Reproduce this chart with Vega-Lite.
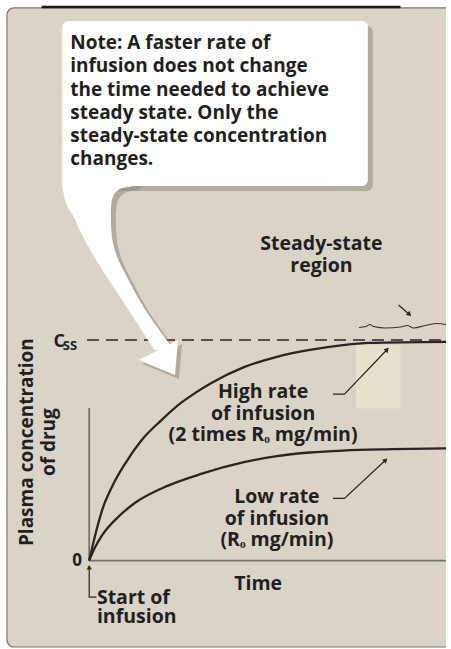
{
  "$schema": "https://vega.github.io/schema/vega-lite/v6.json",
  "width": 451,
  "height": 649,
  "autosize": {"type": "fit", "contains": "padding"},
  "padding": 0,
  "background": "white",
  "config": {"view": {"stroke": null}},
  "encoding": {
    "x": {"field": "t", "type": "quantitative", "scale": {"domain": [-2.5, 10], "nice": false, "zero": false}, "axis": null},
    "y": {"field": "c", "type": "quantitative", "scale": {"domain": [-0.401, 2.542], "nice": false, "zero": false}, "axis": null}
  },
  "layer": [
    {
      "data": {"values": [{"t": -2.306, "t2": 10.6, "c": 2.506, "c2": -0.392}]},
      "mark": {"type": "rect", "fill": "#d9d3c8", "stroke": "#7d7870", "strokeWidth": 1.2, "cornerRadius": 7, "clip": true},
      "encoding": {"x2": {"field": "t2"}, "y2": {"field": "c2"}}
    },
    {
      "data": {"values": [{"t": -1.336, "c": 2.51, "i": 0}, {"t": 8.725, "c": 2.51, "i": 1}]},
      "mark": {"type": "line", "color": "#1a1a1a", "strokeWidth": 2.5},
      "encoding": {"order": {"field": "i"}}
    },
    {
      "data": {"values": [{"t": 7.478, "t2": 8.725, "c": 0.977, "c2": 0.69}]},
      "mark": {"type": "rect", "fill": "#e9e5cb", "opacity": 0.75},
      "encoding": {"x2": {"field": "t2"}, "y2": {"field": "c2"}}
    },
    {
      "data": {"values": [
        {"k": "y", "t": 0, "c": 0.692, "i": 0}, {"k": "y", "t": 0, "c": 0, "i": 1},
        {"k": "x", "t": 0, "c": 0, "i": 0}, {"k": "x", "t": 10, "c": 0, "i": 1}
      ]},
      "mark": {"type": "line", "color": "#77726b", "strokeWidth": 1.8},
      "encoding": {"detail": {"field": "k"}, "order": {"field": "i"}}
    },
    {
      "data": {"values": [{"t": -0.061, "c": 1, "i": 0}, {"t": 10, "c": 1, "i": 1}]},
      "mark": {"type": "line", "color": "#2b2420", "strokeWidth": 1.5, "strokeDash": [12, 7]},
      "encoding": {"order": {"field": "i"}}
    },
    {
      "data": {"values": [
        {"s": "high", "t": 0, "c": 0}, {"s": "high", "t": 0.18, "c": 0.123}, {"s": "high", "t": 0.363, "c": 0.229},
        {"s": "high", "t": 0.64, "c": 0.335}, {"s": "high", "t": 1.012, "c": 0.441}, {"s": "high", "t": 1.472, "c": 0.547},
        {"s": "high", "t": 2.026, "c": 0.637}, {"s": "high", "t": 2.58, "c": 0.716}, {"s": "high", "t": 2.952, "c": 0.758},
        {"s": "high", "t": 3.412, "c": 0.804}, {"s": "high", "t": 4.338, "c": 0.877}, {"s": "high", "t": 5.261, "c": 0.924},
        {"s": "high", "t": 6.184, "c": 0.955}, {"s": "high", "t": 7.109, "c": 0.977}, {"s": "high", "t": 7.838, "c": 0.987},
        {"s": "high", "t": 10, "c": 0.992},
        {"s": "low", "t": 0, "c": 0}, {"s": "low", "t": 0.133, "c": 0.05}, {"s": "low", "t": 0.363, "c": 0.115},
        {"s": "low", "t": 0.826, "c": 0.2}, {"s": "low", "t": 1.289, "c": 0.262}, {"s": "low", "t": 2.212, "c": 0.34},
        {"s": "low", "t": 3.135, "c": 0.393}, {"s": "low", "t": 4.338, "c": 0.446},
        {"s": "low", "t": 5.261, "c": 0.474}, {"s": "low", "t": 6.184, "c": 0.49}, {"s": "low", "t": 7.109, "c": 0.499},
        {"s": "low", "t": 8.5, "c": 0.505}, {"s": "low", "t": 10, "c": 0.509}
      ]},
      "mark": {"type": "line", "color": "#2b2420", "strokeWidth": 2.3, "interpolate": "monotone"},
      "encoding": {"detail": {"field": "s"}}
    },
    {
      "data": {"values": [
        {"t": 7.561, "c": 1.0567}, {"t": 7.755, "c": 1.0612}, {"t": 7.866, "c": 1.0703}, {"t": 7.976, "c": 1.0612},
        {"t": 8.309, "c": 1.0544}, {"t": 8.725, "c": 1.059}, {"t": 8.919, "c": 1.0658}, {"t": 9.085, "c": 1.0544},
        {"t": 9.418, "c": 1.0658}, {"t": 9.756, "c": 1.0748}, {"t": 10, "c": 1.0703}
      ]},
      "mark": {"type": "line", "color": "#3a332d", "strokeWidth": 1.1, "interpolate": "monotone"},
      "encoding": {}
    },
    {
      "data": {"values": [
        {"k": "high", "i": 0, "t": 6.832, "c": 0.755}, {"k": "high", "i": 1, "t": 7.154, "c": 0.755}, {"k": "high", "i": 2, "t": 8.351, "c": 0.957},
        {"k": "low", "i": 0, "t": 6.832, "c": 0.282}, {"k": "low", "i": 1, "t": 7.154, "c": 0.282}, {"k": "low", "i": 2, "t": 8.309, "c": 0.456},
        {"k": "start", "i": 0, "t": 0, "c": -0.035}, {"k": "start", "i": 1, "t": 0, "c": -0.1655}, {"k": "start", "i": 2, "t": 0.202, "c": -0.1655},
        {"k": "ss", "i": 0, "t": 8.67, "c": 1.159}, {"k": "ss", "i": 1, "t": 8.975, "c": 1.116}
      ]},
      "mark": {"type": "line", "color": "#2b2420", "strokeWidth": 1.2},
      "encoding": {"detail": {"field": "k"}, "order": {"field": "i"}}
    },
    {
      "data": {"values": [{"t": 8.351, "c": 0.957}]},
      "mark": {"type": "point", "shape": "triangle-up", "filled": true, "color": "#2b2420", "size": 30, "angle": 44, "opacity": 1},
      "encoding": {}
    },
    {
      "data": {"values": [{"t": 8.309, "c": 0.456}]},
      "mark": {"type": "point", "shape": "triangle-up", "filled": true, "color": "#2b2420", "size": 30, "angle": 47, "opacity": 1},
      "encoding": {}
    },
    {
      "data": {"values": [{"t": 0, "c": -0.03}]},
      "mark": {"type": "point", "shape": "triangle-up", "filled": true, "color": "#2b2420", "size": 28, "angle": 0, "opacity": 1},
      "encoding": {}
    },
    {
      "data": {"values": [{"t": 8.975, "c": 1.116}]},
      "mark": {"type": "point", "shape": "triangle-up", "filled": true, "color": "#2b2420", "size": 30, "angle": 132, "opacity": 1},
      "encoding": {}
    },
    {
      "data": {"values": [
        {"label": "Steady-state\nregion", "t": 6.508, "c": 1.408},
        {"label": "High rate\nof infusion\n(2 times Rₒ mg/min)", "t": 4.873, "c": 0.737},
        {"label": "Low rate\nof infusion\n(Rₒ mg/min)", "t": 5.261, "c": 0.261},
        {"label": "Time", "t": 4.734, "c": -0.134}
      ]},
      "mark": {"type": "text", "font": "Open Sans", "fontWeight": "bold", "fontSize": 19.5, "color": "#231f20", "align": "center", "baseline": "alphabetic", "lineBreak": "\n", "lineHeight": 21.5},
      "encoding": {"text": {"field": "label"}}
    },
    {
      "data": {"values": [{"label": "Start of\ninfusion", "t": 0.216, "c": -0.195}]},
      "mark": {"type": "text", "font": "Open Sans", "fontWeight": "bold", "fontSize": 19.5, "color": "#231f20", "align": "left", "baseline": "alphabetic", "lineBreak": "\n", "lineHeight": 19.5},
      "encoding": {"text": {"field": "label"}}
    },
    {
      "data": {"values": [{"label": "0", "t": -0.2, "c": -0.025}]},
      "mark": {"type": "text", "font": "Open Sans", "fontWeight": "bold", "fontSize": 17, "color": "#231f20", "align": "right", "baseline": "alphabetic"},
      "encoding": {"text": {"field": "label"}}
    },
    {
      "data": {"values": [{"label": "C", "t": -1.003, "c": 0.968}]},
      "mark": {"type": "text", "font": "Open Sans", "fontWeight": "bold", "fontSize": 18, "color": "#231f20", "align": "left", "baseline": "alphabetic"},
      "encoding": {"text": {"field": "label"}}
    },
    {
      "data": {"values": [{"label": "SS", "t": -0.74, "c": 0.955}]},
      "mark": {"type": "text", "font": "Open Sans", "fontWeight": "bold", "fontSize": 13, "color": "#231f20", "align": "left", "baseline": "alphabetic"},
      "encoding": {"text": {"field": "label"}}
    },
    {
      "data": {"values": [{"label": "Plasma concentration\nof drug", "t": -1.585, "c": 0.537}]},
      "mark": {"type": "text", "font": "Open Sans", "fontWeight": "bold", "fontSize": 19, "color": "#231f20", "align": "center", "baseline": "alphabetic", "angle": 270, "lineBreak": "\n", "lineHeight": 22},
      "encoding": {"text": {"field": "label"}}
    },
    {
      "data": {"values": [{"t": -0.754, "t2": 7.81, "c": 2.447, "c2": 1.6985}]},
      "mark": {"type": "rect", "fill": "#8f887d", "opacity": 0.55, "cornerRadius": 6, "xOffset": 5, "yOffset": 5, "x2Offset": 5, "y2Offset": 5},
      "encoding": {"x2": {"field": "t2"}, "y2": {"field": "c2"}}
    },
    {
      "data": {"name": "arrowbody", "values": [
        {"c": 1.7257, "t": -0.754, "t2": 1.38},
        {"c": 1.6985, "t": -0.754, "t2": 1.214},
        {"c": 1.6894, "t": -0.746, "t2": 0.937},
        {"c": 1.6758, "t": -0.732, "t2": 0.784},
        {"c": 1.6531, "t": -0.704, "t2": 0.674},
        {"c": 1.6123, "t": -0.629, "t2": 0.618},
        {"c": 1.5669, "t": -0.463, "t2": 0.604},
        {"c": 1.4763, "t": -0.2, "t2": 0.632},
        {"c": 1.3946, "t": 0.078, "t2": 0.743},
        {"c": 1.2722, "t": 0.549, "t2": 1.103},
        {"c": 1.1361, "t": 1.103, "t2": 1.574},
        {"c": 1.0454, "t": 1.463, "t2": 1.962},
        {"c": 0.9546, "t": 1.824, "t2": 2.378}
      ]},
      "mark": {"type": "area", "orient": "horizontal", "fill": "#8f887d", "opacity": 0.55, "xOffset": 5, "yOffset": 4, "x2Offset": 5, "y2Offset": 4, "interpolate": "monotone"},
      "encoding": {"x2": {"field": "t2"}}
    },
    {
      "data": {"values": [
        {"c": 1.0, "t": 2.489, "t2": 2.489},
        {"c": 0.9093, "t": 1.38, "t2": 2.442},
        {"c": 0.8413, "t": 2.406, "t2": 2.406}
      ]},
      "mark": {"type": "area", "orient": "horizontal", "fill": "#8f887d", "opacity": 0.55, "xOffset": 4, "yOffset": 4, "x2Offset": 4, "y2Offset": 4},
      "encoding": {"x2": {"field": "t2"}}
    },
    {
      "data": {"values": [{"t": -0.754, "t2": 7.81, "c": 2.447, "c2": 1.6985}]},
      "mark": {"type": "rect", "fill": "white", "cornerRadius": 6, "cornerRadiusBottomLeft": 0},
      "encoding": {"x2": {"field": "t2"}, "y2": {"field": "c2"}}
    },
    {
      "data": {"name": "arrowbody"},
      "mark": {"type": "area", "orient": "horizontal", "fill": "white", "interpolate": "monotone"},
      "encoding": {"x2": {"field": "t2"}}
    },
    {
      "data": {"values": [
        {"c": 1.0, "t": 2.489, "t2": 2.489},
        {"c": 0.9093, "t": 1.38, "t2": 2.442},
        {"c": 0.8413, "t": 2.406, "t2": 2.406}
      ]},
      "mark": {"type": "area", "orient": "horizontal", "fill": "white"},
      "encoding": {"x2": {"field": "t2"}}
    },
    {
      "data": {"values": [{"label": "Note: A faster rate of\ninfusion does not change\nthe time needed to achieve\nsteady state. Only the\nsteady-state concentration\n\u00a0changes.", "t": -0.532, "c": 2.32}]},
      "mark": {"type": "text", "font": "Open Sans", "fontWeight": "bold", "fontSize": 19, "color": "#231f20", "align": "left", "baseline": "alphabetic", "lineBreak": "\n", "lineHeight": 23.3},
      "encoding": {"text": {"field": "label"}}
    }
  ]
}
